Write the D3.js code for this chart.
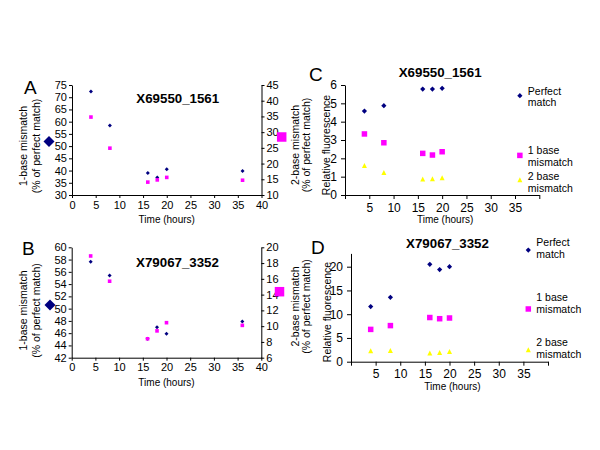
<!DOCTYPE html>
<html><head><meta charset="utf-8">
<script src="https://cdn.jsdelivr.net/npm/d3@7"></script>
<style>body{margin:0;background:#fff}svg text{font-family:Arial,"Liberation Sans",sans-serif}</style>
</head><body><svg width="600" height="450"></svg>
<script>
// ---- data ----
const timeHours = [4, 8, 16, 18, 20, 36];
const aOneBase = [72.3, 58.4, 39.0, 37.2, 40.5, 39.8];
const aTwoBase = [34.8, 24.9, 14.1, 14.8, 15.6, 14.7];
const bOneBase = [57.65, 55.4, 45.1, 46.95, 45.9, 47.9];
const bTwoBase = [18.9, 15.7, 8.4, 9.4, 10.44, 10.1];
const cPerfect = [4.58, 4.87, 5.78, 5.78, 5.82, 5.42];
const cOneBase = [3.33, 2.85, 2.27, 2.18, 2.36, 2.16];
const cTwoBase = [1.6, 1.22, 0.86, 0.87, 0.93, 0.82];
const dPerfect = [11.6, 13.55, 20.5, 19.4, 20.0, 23.5];
const dOneBase = [6.8, 7.6, 9.3, 9.05, 9.2, 11.1];
const dTwoBase = [2.25, 2.3, 1.77, 1.9, 2.1, 2.46];
const xTicksAB = [0, 5, 10, 15, 20, 25, 30, 35, 40];
const xTickLabelsCD = [5, 10, 15, 20, 25, 30, 35];
const xTickMarksCD = [0, 5, 10, 15, 20, 25, 30, 35, 40];
const aLeftTicks = [30, 35, 40, 45, 50, 55, 60, 65, 70, 75];
const aRightTicks = [10, 15, 20, 25, 30, 35, 40, 45];
const bLeftTicks = [42, 44, 46, 48, 50, 52, 54, 56, 58, 60];
const bRightTicks = [6, 8, 10, 12, 14, 16, 18, 20];
const cTicks = [0, 1, 2, 3, 4, 5, 6];
const dTicks = [0, 5, 10, 15, 20];
const seriesLabels = [["Perfect", "match"], ["1 base", "mismatch"], ["2 base", "mismatch"]];
const titles = ["X69550_1561", "X79067_3352"];

const NAVY = "#000080", MAG = "#ff00ff", YEL = "#ffff00";
const FONT = 'Arial, "Liberation Sans", sans-serif';
const svg = d3.select("svg");
const fmt = d3.format("d");

const diamond = r => `M0,${-r}L${r},0L0,${r}L${-r},0Z`;
const square = s => `M${-s/2},${-s/2}h${s}v${s}h${-s}Z`;
const triangle = s => `M0,${-s*0.55}L${s/2},${s*0.45}L${-s/2},${s*0.45}Z`;

function styleAxis(g) {
  g.attr("font-family", FONT).attr("font-size", 11);
  g.select(".domain").attr("stroke", "#000");
  g.selectAll(".tick line").attr("stroke", "#000");
  g.selectAll(".tick text").attr("fill", "#000");
}

function vtext(x, y, lines, dx) {
  lines.forEach((t, i) => {
    svg.append("text").attr("transform", `translate(${x + i * dx},${y}) rotate(-90)`)
      .attr("text-anchor", "middle").attr("font-size", 10.5).text(t);
  });
}

function dots(g, xs, ys, x, y, path, color) {
  g.selectAll(null).data(xs.map((t, i) => [t, ys[i]])).enter().append("path")
    .attr("d", path).attr("fill", color)
    .attr("transform", d => `translate(${x(d[0])},${y(d[1])})`);
}

// ---- Panels A / B (dual axis) ----
function dualPanel(cfg) {
  const x = d3.scaleLinear().domain([0, 40]).range(cfg.xr);
  const yL = d3.scaleLinear().domain(cfg.lDom).range(cfg.yr);
  const yR = d3.scaleLinear().domain(cfg.rDom).range(cfg.yr);
  svg.append("g").attr("transform", `translate(0,${cfg.yr[0]})`)
    .call(d3.axisBottom(x).tickValues(xTicksAB).tickFormat(fmt).tickSize(3).tickPadding(3).tickSizeOuter(0)).call(styleAxis);
  svg.append("g").attr("transform", `translate(${cfg.xr[0]},0)`)
    .call(d3.axisLeft(yL).tickValues(cfg.lTicks).tickFormat(fmt).tickSize(3).tickPadding(2).tickSizeOuter(0)).call(styleAxis);
  svg.append("g").attr("transform", `translate(${cfg.xr[1]},0)`)
    .call(d3.axisRight(yR).tickValues(cfg.rTicks).tickFormat(fmt).tickSize(3).tickPadding(2).tickSizeOuter(0)).call(styleAxis);
  const g = svg.append("g");
  dots(g, timeHours, cfg.one, x, yL, diamond(2), NAVY);
  dots(g, timeHours, cfg.two, x, yR, square(3.6), MAG);
  svg.append("path").attr("d", diamond(5.5)).attr("fill", NAVY)
    .attr("transform", `translate(${cfg.legL[0]},${cfg.legL[1]})`);
  svg.append("path").attr("d", square(9.5)).attr("fill", MAG)
    .attr("transform", `translate(${cfg.legR[0]},${cfg.legR[1]})`);
  svg.append("text").attr("x", (cfg.xr[0] + cfg.xr[1]) / 2 + 11).attr("y", cfg.titleY)
    .attr("text-anchor", "middle").attr("font-weight", "bold").attr("font-size", 13.3).text(cfg.title);
  svg.append("text").attr("x", (cfg.xr[0] + cfg.xr[1]) / 2).attr("y", cfg.yr[0] + 28)
    .attr("text-anchor", "middle").attr("font-size", 10).text("Time (hours)");
  vtext(27, (cfg.yr[0] + cfg.yr[1]) / 2 + cfg.lOff, ["1-base mismatch", "(% of perfect match)"], 12.5);
  vtext(298.5, (cfg.yr[0] + cfg.yr[1]) / 2 + cfg.rOff, ["2-base mismatch", "(% of perfect match)"], 11.5);
  svg.append("text").attr("x", cfg.letter[0]).attr("y", cfg.letter[1]).attr("font-size", 19).text(cfg.letterText);
}

// ---- Panels C / D ----
function fluoPanel(cfg) {
  const x = d3.scaleLinear().domain([0, 40]).range(cfg.xr);
  const y = d3.scaleLinear().domain(cfg.yDom).range(cfg.yr);
  svg.append("g").attr("transform", `translate(0,${cfg.yr[0]})`)
    .call(d3.axisBottom(x).tickValues(xTickMarksCD).tickSize(4).tickFormat("").tickSizeOuter(0)).call(styleAxis);
  svg.append("g").attr("transform", `translate(0,${cfg.yr[0]})`)
    .call(d3.axisBottom(x).tickValues(xTickLabelsCD).tickFormat(fmt).tickSize(0).tickPadding(8)).call(styleAxis)
    .call(g => g.select(".domain").remove()).call(g => g.selectAll("text").attr("font-size", 12));
  svg.append("g").attr("transform", `translate(${cfg.xr[0]},0)`)
    .call(d3.axisLeft(y).tickValues(cfg.ticks).tickFormat(fmt).tickSize(4).tickPadding(4).tickSizeOuter(0)).call(styleAxis)
    .call(g => g.selectAll("text").attr("font-size", 12));
  const g = svg.append("g");
  dots(g, timeHours, cfg.perfect, x, y, diamond(2.6), NAVY);
  dots(g, timeHours, cfg.one, x, y, square(5.5), MAG);
  dots(g, timeHours, cfg.two, x, y, triangle(5), YEL);
  const last = timeHours.length - 1;
  [cfg.perfect, cfg.one, cfg.two].forEach((s, k) => {
    const t = svg.append("text").attr("x", x(timeHours[last]) + 8).attr("y", y(s[last]) + cfg.labOff[k])
      .attr("font-size", 10.5);
    seriesLabels[k].forEach((l, i) => t.append("tspan").attr("x", x(timeHours[last]) + 8)
      .attr("dy", i ? 11.8 : 0).text(l));
  });
  svg.append("text").attr("x", (cfg.xr[0] + cfg.xr[1]) / 2 - 2).attr("y", cfg.titleY)
    .attr("text-anchor", "middle").attr("font-weight", "bold").attr("font-size", 13.3).text(cfg.title);
  svg.append("text").attr("x", (cfg.xr[0] + cfg.xr[1]) / 2 + 3).attr("y", cfg.yr[0] + 28)
    .attr("text-anchor", "middle").attr("font-size", 10).text("Time (hours)");
  vtext(cfg.yTitleX, cfg.yTitleY, ["Relative fluorescence"], 0);
  svg.append("text").attr("x", cfg.letter[0]).attr("y", cfg.letter[1]).attr("font-size", 19).text(cfg.letterText);
}

dualPanel({xr: [72, 261.5], yr: [195, 85], lDom: [30, 75], rDom: [10, 45], lTicks: aLeftTicks, rTicks: aRightTicks,
  one: aOneBase, two: aTwoBase, legL: [49, 141.5], legR: [281.7, 137], title: titles[0], titleY: 103,
  lOff: 6, rOff: 5, letter: [24, 94], letterText: "A"});
dualPanel({xr: [71.7, 261.3], yr: [357.7, 247.3], lDom: [42, 60], rDom: [6, 20], lTicks: bLeftTicks, rTicks: bRightTicks,
  one: bOneBase, two: bTwoBase, legL: [50, 305], legR: [279.5, 291.7], title: titles[1], titleY: 266.5,
  lOff: 8, rOff: 4, letter: [22, 255], letterText: "B"});
fluoPanel({xr: [345, 539.3], yr: [195, 85], yDom: [0, 6], ticks: cTicks, perfect: cPerfect, one: cOneBase, two: cTwoBase,
  title: titles[0], titleY: 77, yTitleX: 330, yTitleY: 145, labOff: [-1, -1, 0], letter: [309, 81], letterText: "C"});
fluoPanel({xr: [351, 548], yr: [361.7, 253.4], yDom: [0, 22.8], ticks: dTicks, perfect: dPerfect, one: dOneBase, two: dTwoBase,
  title: titles[1], titleY: 248, yTitleX: 331, yTitleY: 312, labOff: [-4, -8, -4], letter: [311, 254], letterText: "D"});
</script></body></html>
